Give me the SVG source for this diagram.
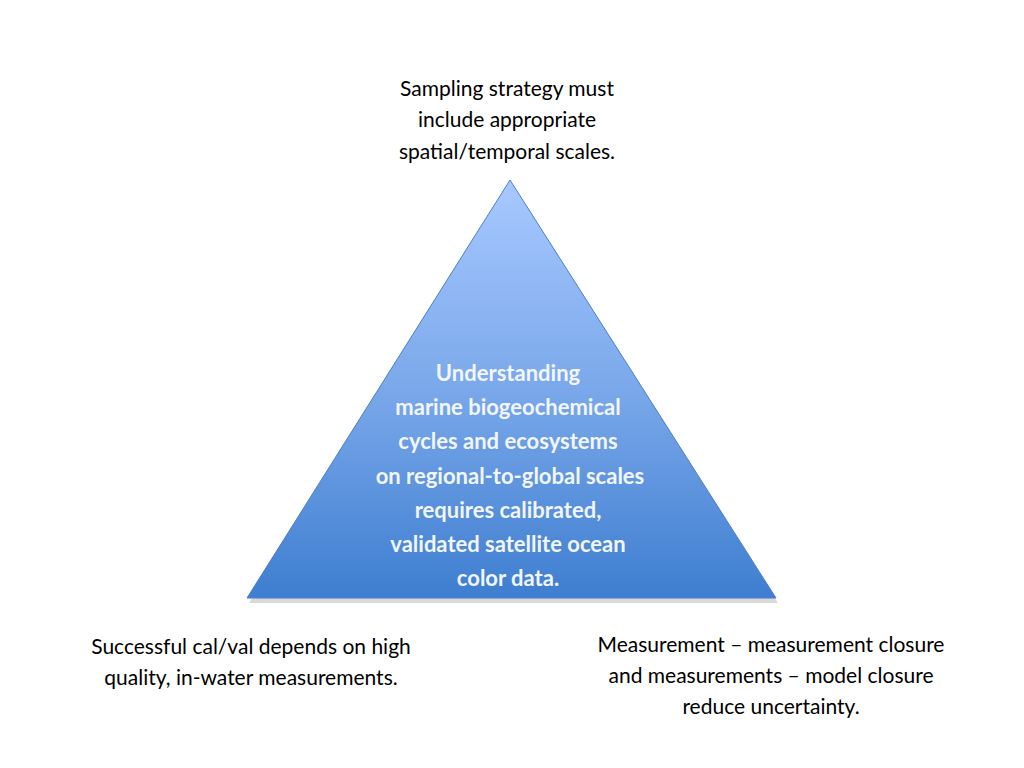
<svg xmlns="http://www.w3.org/2000/svg" width="1024" height="768" viewBox="0 0 1024 768">
<style>
.t{font-family:Lato,"Open Sans","Liberation Sans",sans-serif;font-size:21px;fill:#000;text-anchor:middle}
.c{font-family:Lato,"Open Sans","Liberation Sans",sans-serif;font-size:22px;font-weight:bold;fill:#f2f6fc;text-anchor:middle}
</style>
<defs>
<linearGradient id="g" x1="0" y1="0" x2="0" y2="1">
<stop offset="0" stop-color="#a8c8ff"/>
<stop offset="0.5" stop-color="#7aa8ea"/>
<stop offset="1" stop-color="#3e7ed0"/>
</linearGradient>
</defs>
<rect width="1024" height="768" fill="#fff"/>
<g id="pyramid">
<polygon points="512,184 249,603 778,603" fill="#000" opacity="0.15"/>
<polygon points="510,180 247,598 776,598" fill="url(#g)" stroke="#4a7fc8" stroke-width="1"/>
<text class="c"><tspan x="508" y="381">Understanding</tspan><tspan x="508" y="415">marine biogeochemical</tspan><tspan x="508" y="449">cycles and ecosystems</tspan><tspan x="510" y="484">on regional-to-global scales</tspan><tspan x="508" y="518">requires calibrated,</tspan><tspan x="508" y="552">validated satellite ocean</tspan><tspan x="508" y="586">color data.</tspan></text>
</g>
<g id="top"><text class="t"><tspan x="507" y="96">Sampling strategy must</tspan><tspan x="507" y="127">include appropriate</tspan><tspan x="507" y="159">spatial/temporal scales.</tspan></text></g>
<g id="left"><text class="t"><tspan x="251" y="654">Successful cal/val depends on high</tspan><tspan x="251" y="685">quality, in-water measurements.</tspan></text></g>
<g id="right"><text class="t"><tspan x="771" y="652">Measurement – measurement closure</tspan><tspan x="771" y="683">and  measurements – model closure</tspan><tspan x="771" y="714">reduce uncertainty.</tspan></text></g>
<g id="connectors"/>
</svg>
